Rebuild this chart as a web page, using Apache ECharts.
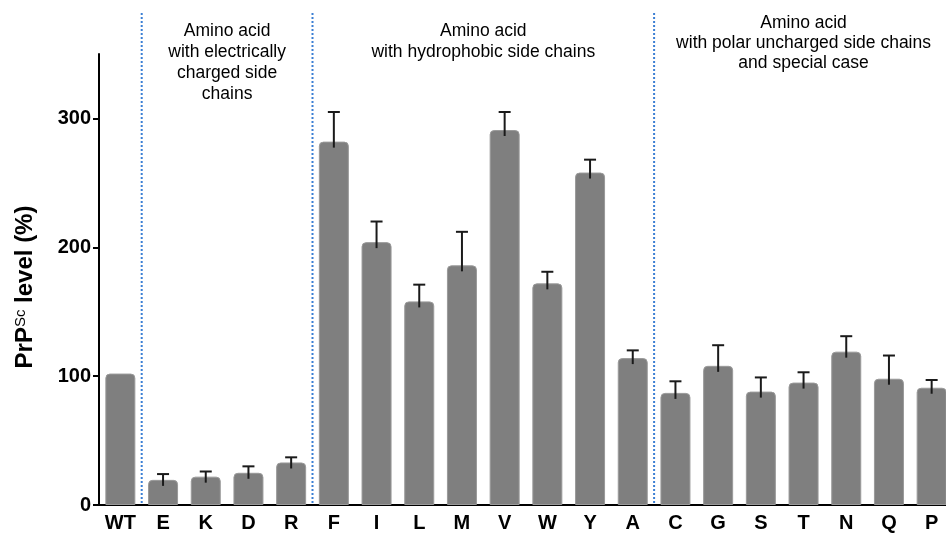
<!DOCTYPE html>
<html>
<head>
<meta charset="utf-8">
<script src="https://cdn.jsdelivr.net/npm/echarts@6/dist/echarts.min.js"></script>
<style>
  html, body { margin: 0; padding: 0; background: #fff; overflow: hidden; }
  #main { width: 953px; height: 535px; }
</style>
</head>
<body>
<div id="main"></div>
<script>
// amino acid substitutions
var categories = ["WT", "E", "K", "D", "R", "F", "I", "L", "M", "V", "W", "Y", "A", "C", "G", "S", "T", "N", "Q", "P"];
// mean PrPSc level (%)
var levels = [102, 19.5, 22, 25, 33, 282, 204, 158, 186, 291, 172, 258, 114, 87, 108, 88, 95, 119, 98, 91];
// top of the error bar (mean + SD), null = none
var errTops = [null, 24, 26, 30, 37, 305, 220, 171, 212, 305, 181, 268, 120, 96, 124, 99, 103, 131, 116, 97];
var yTicks = [0, 100, 200, 300];

// groups: [first index, last index, label]
var groups = [
  [1, 4, "Amino acid\nwith electrically\ncharged side\nchains"],
  [5, 12, "Amino acid\nwith hydrophobic side chains"],
  [13, 19, "Amino acid\nwith polar uncharged side chains\nand special case"]
];

var chart = echarts.init(document.getElementById("main"));

var errData = [];
for (var i = 0; i < categories.length; i++) {
  if (errTops[i] != null) errData.push([i, levels[i], errTops[i]]);
}

var font = "Liberation Sans, Arial";

chart.setOption({
  animation: false,
  grid: { left: 99, right: 0, top: 54, bottom: 30 },
  xAxis: {
    type: "category",
    data: categories,
    axisLine: { lineStyle: { color: "#000", width: 2 } },
    axisTick: { alignWithLabel: true, length: 6, lineStyle: { color: "#000", width: 2 } },
    axisLabel: {
      color: "#000", fontSize: 20, fontWeight: "bold",
      fontFamily: font, margin: 8, interval: 0
    }
  },
  yAxis: {
    type: "value",
    min: 0,
    max: 350,
    splitLine: { show: false },
    axisLine: { show: true, lineStyle: { color: "#000", width: 2 } },
    axisTick: { show: true, length: 6, customValues: yTicks, lineStyle: { color: "#000", width: 2 } },
    axisLabel: {
      customValues: yTicks,
      color: "#000", fontSize: 20, fontWeight: "bold",
      fontFamily: font, margin: 8
    }
  },
  series: [
    {
      type: "bar",
      data: levels,
      barWidth: 30,
      itemStyle: { color: "#7f7f7f", borderColor: "#9a9a9a", borderWidth: 1, borderRadius: [4, 4, 0, 0] },
      z: 2
    },
    {
      type: "custom",
      data: errData,
      z: 3,
      renderItem: function (params, api) {
        var base = api.coord([api.value(0), api.value(1)]);
        var top = api.coord([api.value(0), api.value(2)]);
        var style = { stroke: "#1a1a1a", lineWidth: 2 };
        return {
          type: "group",
          children: [
            { type: "line", shape: { x1: base[0], y1: base[1] + 6, x2: top[0], y2: top[1] }, style: style },
            { type: "line", shape: { x1: top[0] - 6, y1: top[1], x2: top[0] + 6, y2: top[1] }, style: style }
          ]
        };
      }
    }
  ]
});

// separators and group captions, placed from the category axis
var px = function (idx) { return chart.convertToPixel({ xAxisIndex: 0 }, idx); };
var axisY = chart.convertToPixel({ yAxisIndex: 0 }, 0);
var elements = [];
var captionTops = [21, 21, 13];
var captionLH = [21, 21, 20];
groups.forEach(function (g, k) {
  var sx = (px(g[0] - 1) + px(g[0])) / 2;
  elements.push({
    type: "line",
    shape: { x1: sx, y1: 13, x2: sx, y2: axisY - 1 },
    style: { stroke: "#3b7fd4", lineWidth: 2, lineDash: [2, 2] },
    z: 1
  });
  elements.push({
    type: "text",
    x: (px(g[0]) + px(g[1])) / 2,
    y: captionTops[k],
    style: {
      text: g[2], fill: "#000", fontSize: 17.5, lineHeight: captionLH[k],
      fontFamily: font, align: "center", verticalAlign: "top"
    }
  });
});
elements.push({
  type: "text",
  x: 25,
  y: 287,
  rotation: Math.PI / 2,
  style: {
    text: "PrP{sup|Sc} level (%)",
    fill: "#000", fontSize: 24, fontWeight: "bold",
    fontFamily: font,
    align: "center", verticalAlign: "middle",
    rich: {
      sup: { fontSize: 15, fontWeight: "normal", verticalAlign: "top", padding: [0, 0, 9, 0], fontFamily: font }
    }
  }
});
chart.setOption({ graphic: { elements: elements } });
</script>
</body>
</html>
